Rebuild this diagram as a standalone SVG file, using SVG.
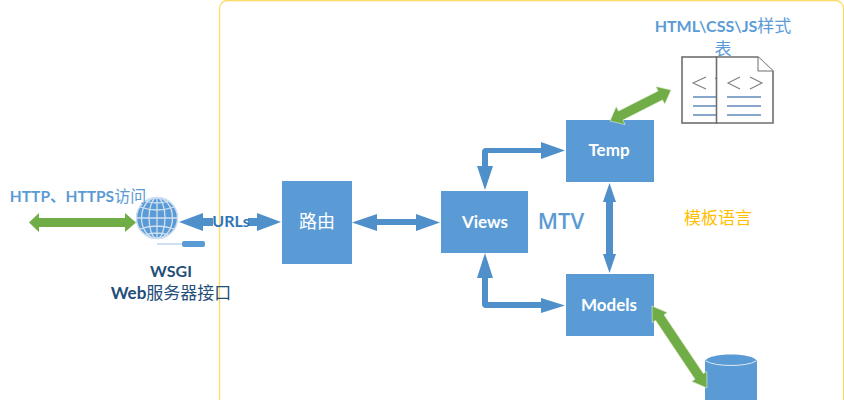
<svg xmlns="http://www.w3.org/2000/svg" width="844" height="400" viewBox="0 0 844 400">
<style>
text{font-family:Lato,"Noto Sans CJK SC",sans-serif;text-anchor:middle}
.box{fill:#5b9bd5}
.bl{fill:#4f8fca}
.gr{fill:#70ad47}
.w{fill:#fff;font-weight:700;font-size:17px}
.lb{fill:#5b9bd5;font-size:16px;font-weight:700}
.dk{fill:#1f4e79;font-size:17px;font-weight:700}
.cj{font-weight:400;font-size:17px}
.doc{fill:#fff;stroke:#6f6f6f;stroke-width:1.6}
.ch{fill:none;stroke:#7f7f7f;stroke-width:1.1}
.ln{stroke:#5f8ab8;stroke-width:1.5}
.gl{fill:none;stroke:#cfe0f2;stroke-width:1.3}
</style>
<rect id="frame" x="219.500" y="0.500" width="624" height="420" rx="8" fill="#fff" stroke="#ffd966" stroke-width="1.300"/>
<g id="wsgi">
<circle cx="157" cy="218" r="21" fill="#5b9bd5"/>
<ellipse class="gl" cx="157" cy="218" rx="8" ry="20.500"/>
<ellipse class="gl" cx="157" cy="218" rx="15.500" ry="20.500"/>
<circle class="gl" cx="157" cy="218" r="20.500"/>
<path class="gl" d="M157 197V239M137 218H177M140 207Q157 213 174 207M140 229Q157 223 174 229M145 201Q157 205 169 201M145 235Q157 231 169 235"/>
<path d="M157 244H183" stroke="#9dc3e6" stroke-width="1"/>
<rect x="182" y="241" width="23" height="6" rx="2" fill="#5b9bd5"/>
<text class="dk" x="171" y="277" style="font-size:16px">WSGI</text>
<text class="dk" x="171" y="299">Web<tspan class="cj">服务器接口</tspan></text>
<text class="lb" x="78" y="202" style="font-size:15.500px">HTTP、HTTPS<tspan class="cj" style="font-size:16px">访问</tspan></text>
</g>
<g id="router"><rect class="box" x="282" y="181" width="70" height="83"/><text class="w" x="317" y="228" style="font-size:18px;font-weight:400">路由</text></g>
<g id="views"><rect class="box" x="441" y="191" width="87" height="62"/><text class="w" x="485" y="228">Views</text></g>
<g id="temp"><rect class="box" x="566" y="120" width="88" height="62"/><text class="w" x="609" y="156">Temp</text></g>
<g id="models"><rect class="box" x="566" y="274" width="88" height="62"/><text class="w" x="609" y="311">Models</text></g>
<g id="db"><path class="box" d="M705 362C705 352 757 352 757 362V400H705Z"/><path d="M706 361C715 367 747 367 756 361" fill="none" stroke="#dbe8f5" stroke-width="1"/></g>
<g id="docs">
<text class="lb" x="723" y="32">HTML\CSS\JS<tspan class="cj">样式</tspan></text>
<text class="lb cj" x="723" y="55">表</text>
<rect class="doc" x="682" y="57" width="35" height="66"/>
<path class="ch" d="M706 77L693 83L706 89M715 78L717 79"/>
<path class="ln" d="M693 97H717M693 106H717M693 115H717"/>
<path class="doc" d="M716.500 57H758L773 71V123H716.500Z"/>
<path d="M758 57V71H773" fill="#fff" stroke="#6f6f6f" stroke-width="1"/>
<path class="ch" d="M740 77L728 83L740 89M750 77L762 83L750 89"/>
<path class="ln" d="M727 97H761M727 106H761M727 115H761"/>
</g>
<g id="mtv"><text x="561" y="229" font-size="22" font-weight="600" fill="#5b9bd5" style="font-family:'Open Sans',sans-serif">MTV</text></g>
<g id="tpl"><text x="718" y="224" font-size="17" fill="#ffc000">模板语言</text></g>
<g id="connectors">
<path class="gr" d="M29 222.500L39 213V218H125V213L136 222.500L125 232V227H39V232Z"/>
<path class="bl" d="M179 222L203 213V218H213V226H203V231Z"/>
<path class="bl" d="M281 222L257 213V218H248V226H257V231Z"/>
<path class="bl" d="M352 222.500L377 214V219H416V214L440 222.500L416 231V225H377V231Z"/>
<path class="bl" d="M485 190L477 166H482V152Q482 148 486 148H541V142L565 150.500L541 159V153H488V166H493Z"/>
<path class="bl" d="M485 253L477 278H482V304Q482 308 486 308H541V298L565 305.500L541 313V302H488V278H493Z"/>
<path class="bl" d="M609.500 183L616 202H613V254H616L609.500 273L603 254H606V202H603Z"/>
<path class="gr" stroke="#e4efdb" stroke-width=".6" d="M610 121L616.200 106.600L618.500 111.100L658.100 90.900L655.800 86.500L671 90L664.800 104.300L662.500 99.900L622.900 120.100L625.200 124.600Z"/>
<path class="gr" stroke="#e4efdb" stroke-width=".6" d="M652 306L667.300 312.600L664 314.800L703.400 373.600L706.700 371.400L707 388L691.700 381.400L695 379.200L655.600 320.400L652.300 322.600Z"/>
</g>
<g id="urls"><text x="231" y="227" font-size="16" font-weight="700" fill="#2e75b6">URLs</text></g>
</svg>
